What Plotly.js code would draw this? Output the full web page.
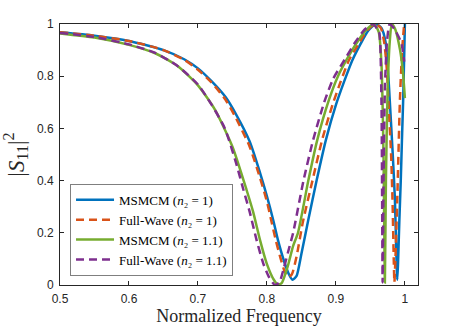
<!DOCTYPE html>
<html>
<head>
<meta charset="utf-8">
<script src="https://cdn.plot.ly/plotly-3.0.1.min.js"></script>
<style>
  body { margin: 0; background: #fff; }
  #chart { width: 463px; height: 328px; }
</style>
</head>
<body>
<div id="chart"></div>
<script>
// |S11|^2, normalized frequency on x
const freqMsm1 = [0.50, 0.55, 0.60, 0.65, 0.68, 0.70, 0.72, 0.74, 0.755, 0.775, 0.79, 0.80, 0.809, 0.816, 0.825, 0.832, 0.837, 0.843, 0.85, 0.86, 0.872, 0.8855, 0.90, 0.912, 0.924, 0.935, 0.947, 0.958, 0.966, 0.972, 0.976, 0.978, 0.982, 0.9855, 0.988, 0.9889, 0.990, 0.992, 0.994, 0.996, 0.9975, 0.999, 1.0];
const s11Msm1 = [0.968, 0.955, 0.935, 0.90, 0.865, 0.83, 0.78, 0.72, 0.655, 0.55, 0.43, 0.34, 0.25, 0.172, 0.09, 0.04, 0.02, 0.035, 0.12, 0.25, 0.40, 0.556, 0.69, 0.78, 0.862, 0.92, 0.975, 1.0, 0.985, 0.93, 0.80, 0.71, 0.52, 0.33, 0.08, 0.02, 0.08, 0.25, 0.40, 0.58, 0.71, 0.88, 1.0];

const freqFw1 = [0.50, 0.55, 0.60, 0.65, 0.68, 0.70, 0.72, 0.74, 0.755, 0.775, 0.79, 0.80, 0.806, 0.813, 0.82, 0.826, 0.831, 0.836, 0.843, 0.852, 0.866, 0.88, 0.895, 0.907, 0.919, 0.932, 0.945, 0.957, 0.965, 0.970, 0.974, 0.976, 0.980, 0.982, 0.984, 0.9848, 0.986, 0.9889, 0.9928, 0.996, 0.999];
const s11Fw1 = [0.968, 0.955, 0.935, 0.90, 0.863, 0.825, 0.775, 0.71, 0.64, 0.53, 0.41, 0.32, 0.25, 0.17, 0.10, 0.05, 0.03, 0.04, 0.11, 0.24, 0.40, 0.556, 0.69, 0.78, 0.862, 0.92, 0.975, 1.0, 0.985, 0.93, 0.82, 0.71, 0.50, 0.33, 0.08, 0.01, 0.08, 0.326, 0.709, 0.90, 1.0];

const freqMsm11 = [0.50, 0.55, 0.60, 0.638, 0.67, 0.70, 0.725, 0.75, 0.7705, 0.78, 0.79, 0.80, 0.81, 0.8164, 0.822, 0.83, 0.838, 0.845, 0.86, 0.873, 0.89, 0.903, 0.918, 0.932, 0.945, 0.955, 0.962, 0.966, 0.969, 0.971, 0.9725, 0.975, 0.978, 0.981, 0.986, 0.993, 0.997, 1.0];
const s11Msm11 = [0.964, 0.948, 0.92, 0.888, 0.84, 0.765, 0.67, 0.53, 0.364, 0.28, 0.172, 0.08, 0.02, 0.0, 0.01, 0.07, 0.15, 0.20, 0.40, 0.556, 0.71, 0.80, 0.875, 0.935, 0.98, 1.0, 0.97, 0.85, 0.50, 0.01, 0.40, 0.75, 0.93, 1.0, 0.98, 0.90, 0.82, 0.716];

const freqFw11 = [0.50, 0.55, 0.60, 0.638, 0.67, 0.70, 0.72, 0.739, 0.755, 0.766, 0.775, 0.785, 0.795, 0.803, 0.8116, 0.818, 0.825, 0.832, 0.838, 0.853, 0.867, 0.883, 0.896, 0.913, 0.928, 0.942, 0.954, 0.960, 0.963, 0.966, 0.967, 0.9677, 0.969, 0.971, 0.974, 0.978, 0.985, 0.995, 0.999];
const s11Fw11 = [0.966, 0.95, 0.922, 0.889, 0.84, 0.768, 0.69, 0.60, 0.47, 0.364, 0.28, 0.172, 0.08, 0.03, 0.0, 0.01, 0.07, 0.14, 0.20, 0.40, 0.556, 0.70, 0.79, 0.865, 0.93, 0.98, 1.0, 0.98, 0.965, 0.709, 0.326, 0.01, 0.40, 0.75, 0.93, 1.0, 0.98, 0.926, 0.856];

const xTicks = [0.5, 0.6, 0.7, 0.8, 0.9, 1];
const xTickText = ['0.5', '0.6', '0.7', '0.8', '0.9', '1'];
const yTicks = [0, 0.2, 0.4, 0.6, 0.8, 1];
const yTickText = ['0', '0.2', '0.4', '0.6', '0.8', '1'];

const serif = 'Liberation Serif, DejaVu Serif, serif';
const sans = 'Liberation Sans, Arial, sans-serif';

const data = [
  {
    x: freqMsm1, y: s11Msm1,
    name: 'MSMCM (<i>n</i>₂ = 1)',
    type: 'scatter', mode: 'lines',
    line: { color: '#0072BD', width: 2.5, shape: 'spline', smoothing: 0.6 }
  },
  {
    x: freqFw1, y: s11Fw1,
    name: 'Full-Wave (<i>n</i>₂ = 1)',
    type: 'scatter', mode: 'lines',
    line: { color: '#D95319', width: 2.5, dash: '8px,5px', shape: 'spline', smoothing: 0.6 }
  },
  {
    x: freqMsm11, y: s11Msm11,
    name: 'MSMCM (<i>n</i>₂ = 1.1)',
    type: 'scatter', mode: 'lines',
    line: { color: '#77AC30', width: 2.5, shape: 'spline', smoothing: 0.6 }
  },
  {
    x: freqFw11, y: s11Fw11,
    name: 'Full-Wave (<i>n</i>₂ = 1.1)',
    type: 'scatter', mode: 'lines',
    line: { color: '#7E2F8E', width: 2.5, dash: '8px,5px', shape: 'spline', smoothing: 0.6 }
  }
];

const axisCommon = {
  showgrid: false,
  zeroline: false,
  showline: true,
  linecolor: '#262626',
  linewidth: 1,
  mirror: 'ticks',
  ticks: 'inside',
  ticklen: 4,
  tickcolor: '#262626',
  tickfont: { family: sans, size: 12, color: '#262626' }
};

const layout = {
  width: 463,
  height: 328,
  margin: { l: 60, r: 45, t: 24, b: 43 },
  paper_bgcolor: '#ffffff',
  plot_bgcolor: '#ffffff',
  showlegend: true,
  legend: {
    x: 0.028, y: 0.035,
    xanchor: 'left', yanchor: 'bottom',
    bgcolor: '#ffffff',
    bordercolor: '#7f7f7f',
    borderwidth: 1,
    itemwidth: 38,
    font: { family: serif, size: 13, color: '#000000' },
    tracegroupgap: 0
  },
  xaxis: Object.assign({}, axisCommon, {
    range: [0.5, 1.019],
    tickvals: xTicks,
    ticktext: xTickText,
    ticklabelstandoff: 3,
    title: { text: 'Normalized Frequency', font: { family: serif, size: 18, color: '#262626' }, standoff: 2 }
  }),
  yaxis: Object.assign({}, axisCommon, {
    range: [0, 1],
    tickvals: yTicks,
    ticktext: yTickText,
    ticklabelstandoff: 3,
    title: { text: '|<i>S</i><sub>11</sub>|<sup>2</sup>', font: { family: serif, size: 23, color: '#262626' }, standoff: 9 }
  })
};

Plotly.newPlot('chart', data, layout, { displayModeBar: false, staticPlot: true });
</script>
</body>
</html>
